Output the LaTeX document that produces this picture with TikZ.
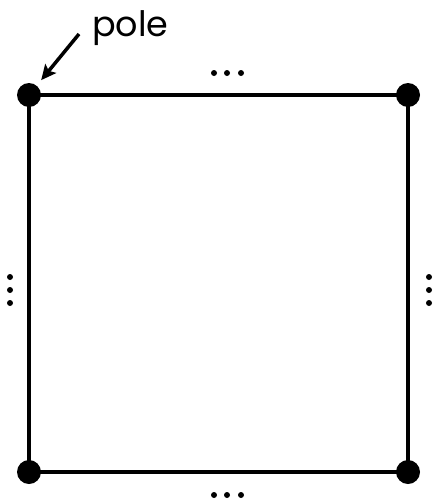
\documentclass[tikz,border=0pt]{standalone}
\usepackage{fontspec}
\setmainfont{Poppins}
\usetikzlibrary{arrows.meta}

\begin{document}
\begin{tikzpicture}[x=1pt,y=-1pt]

\useasboundingbox (0,0) rectangle (439,501);

% corner poles
\node [circle, fill=black, inner sep=0pt, minimum size=24pt] (tl) at (29,95) {};
\node [circle, fill=black, inner sep=0pt, minimum size=24pt] (tr) at (408,95) {};
\node [circle, fill=black, inner sep=0pt, minimum size=24pt] (br) at (408,472) {};
\node [circle, fill=black, inner sep=0pt, minimum size=24pt] (bl) at (29,472) {};

\draw [line width=4pt] (tl.center) -- (tr.center) -- (br.center) -- (bl.center) -- cycle;

%\draw (tl) -- (br);

% label
\node [anchor=base west, inner sep=0pt, font={\fontsize{35}{35}\selectfont}] (pole) at (92,36) {pole};
\coordinate (pole-tail) at (79,34);

\draw [line width=3.5pt, -{Stealth[length=15pt, width=14pt, inset=3pt]}, shorten >=7pt] (pole-tail) -- (tl);

% dots along the sides
\foreach \x in {214,227,241} {
  \fill (\x,73) circle (3pt);
  \fill (\x,495) circle (3pt);
}
\foreach \y in {277,290,303} {
  \fill (10,\y) circle (3pt);
  \fill (429,\y) circle (3pt);
}

\end{tikzpicture}
\end{document}
